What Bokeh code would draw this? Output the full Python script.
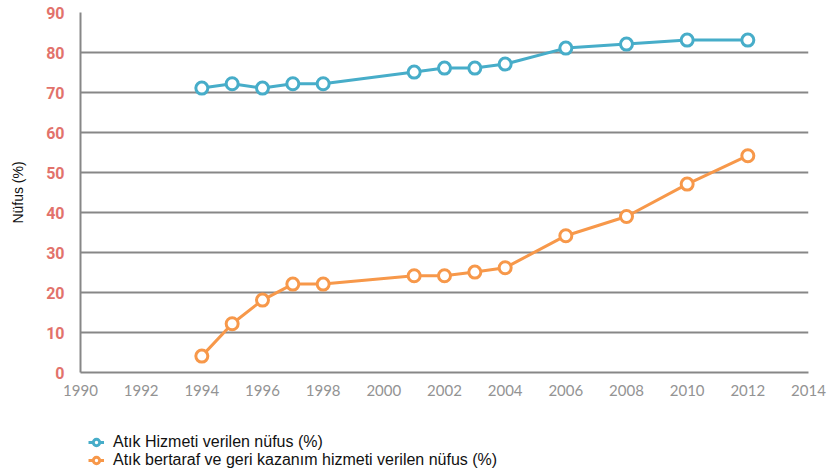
from bokeh.plotting import figure
from bokeh.layouts import column
from bokeh.models import Range1d, FixedTicker, Legend, LegendItem
from bokeh.embed import file_html
from bokeh.resources import INLINE

# Atık hizmeti verilen nüfus (%)
years_service = [1994, 1995, 1996, 1997, 1998, 2001, 2002, 2003, 2004, 2006, 2008, 2010, 2012]
service_pct = [71.1, 72.2, 71.1, 72.2, 72.2, 75.1, 76.1, 76.1, 77.1, 81.1, 82.1, 83.1, 83.1]

# Atık bertaraf ve geri kazanım hizmeti verilen nüfus (%)
years_disposal = [1994, 1995, 1996, 1997, 1998, 2001, 2002, 2003, 2004, 2006, 2008, 2010, 2012]
disposal_pct = [4.1, 12.2, 18.1, 22.1, 22.1, 24.2, 24.2, 25.1, 26.2, 34.2, 39.0, 47.1, 54.2]

x_ticks = list(range(1990, 2015, 2))
y_ticks = list(range(0, 91, 10))

series_names = ["Atık Hizmeti verilen nüfus (%)",
                "Atık bertaraf ve geri kazanım hizmeti verilen nüfus (%)"]

BLUE = "#47adc9"
ORANGE = "#f7984a"
GRID = "#878787"

p = figure(width=827, height=420, output_backend="svg", toolbar_location=None,
           x_range=Range1d(1990, 2014), y_range=Range1d(0, 90),
           min_border_left=80, min_border_right=19, min_border_top=12,
           min_border_bottom=48)
p.outline_line_color = None

p.xgrid.visible = False
p.ygrid.grid_line_color = GRID
p.ygrid.grid_line_width = 2
p.ygrid.ticker = FixedTicker(ticks=y_ticks)

p.xaxis.ticker = FixedTicker(ticks=x_ticks)
p.yaxis.ticker = FixedTicker(ticks=y_ticks)
for ax in (p.xaxis[0], p.yaxis[0]):
    ax.axis_line_color = GRID
    ax.axis_line_width = 2
    ax.major_tick_line_color = None
    ax.minor_tick_line_color = None

p.xaxis.major_label_text_font = "Lato"
p.xaxis.major_label_text_font_size = "15px"
p.xaxis.major_label_text_color = "#939393"
p.xaxis.major_label_standoff = 6

p.yaxis.major_label_text_font = "Roboto"
p.yaxis.major_label_text_font_style = "bold"
p.yaxis.major_label_text_font_size = "16px"
p.yaxis.major_label_text_color = "#e2726b"
p.yaxis.major_label_standoff = 10

p.yaxis.axis_label = "Nüfus (%)"
p.yaxis.axis_label_text_font = "Liberation Sans"
p.yaxis.axis_label_text_font_style = "normal"
p.yaxis.axis_label_text_font_size = "14px"
p.yaxis.axis_label_text_color = "#111111"
p.yaxis.axis_label_standoff = 17

p.line(years_service, service_pct, line_color=BLUE, line_width=3)
p.scatter(years_service, service_pct, size=12, line_color=BLUE, line_width=3,
          fill_color="white")
p.line(years_disposal, disposal_pct, line_color=ORANGE, line_width=3)
p.scatter(years_disposal, disposal_pct, size=12, line_color=ORANGE, line_width=3,
          fill_color="white")

# Legend strip under the chart, with its own key glyphs (kept out of view)
leg = figure(width=827, height=52, output_backend="svg", toolbar_location=None,
             x_range=Range1d(0, 1), y_range=Range1d(0, 1),
             min_border=0, min_border_left=0, min_border_right=0,
             min_border_top=0, min_border_bottom=0)
leg.axis.visible = False
leg.grid.visible = False
leg.outline_line_color = None

keys = []
for color in (BLUE, ORANGE):
    kl = leg.line([-5, -4], [-5, -4], line_color=color, line_width=3)
    kc = leg.scatter([-5], [-5], size=10, line_color=color, line_width=3,
                     fill_color="white")
    keys.append([kl, kc])

legend = Legend(items=[LegendItem(label=series_names[0], renderers=keys[0]),
                       LegendItem(label=series_names[1], renderers=keys[1])],
                location=(8, 3), orientation="vertical",
                padding=0, spacing=0, margin=0,
                glyph_width=16, glyph_height=18, label_height=18,
                label_standoff=9,
                label_text_font="Liberation Sans", label_text_font_size="16px",
                label_text_color="#111111",
                border_line_color=None, background_fill_alpha=0)
leg.add_layout(legend, "center")

page = column(p, leg, spacing=0)
open("out.html", "w").write(file_html(page, INLINE))
